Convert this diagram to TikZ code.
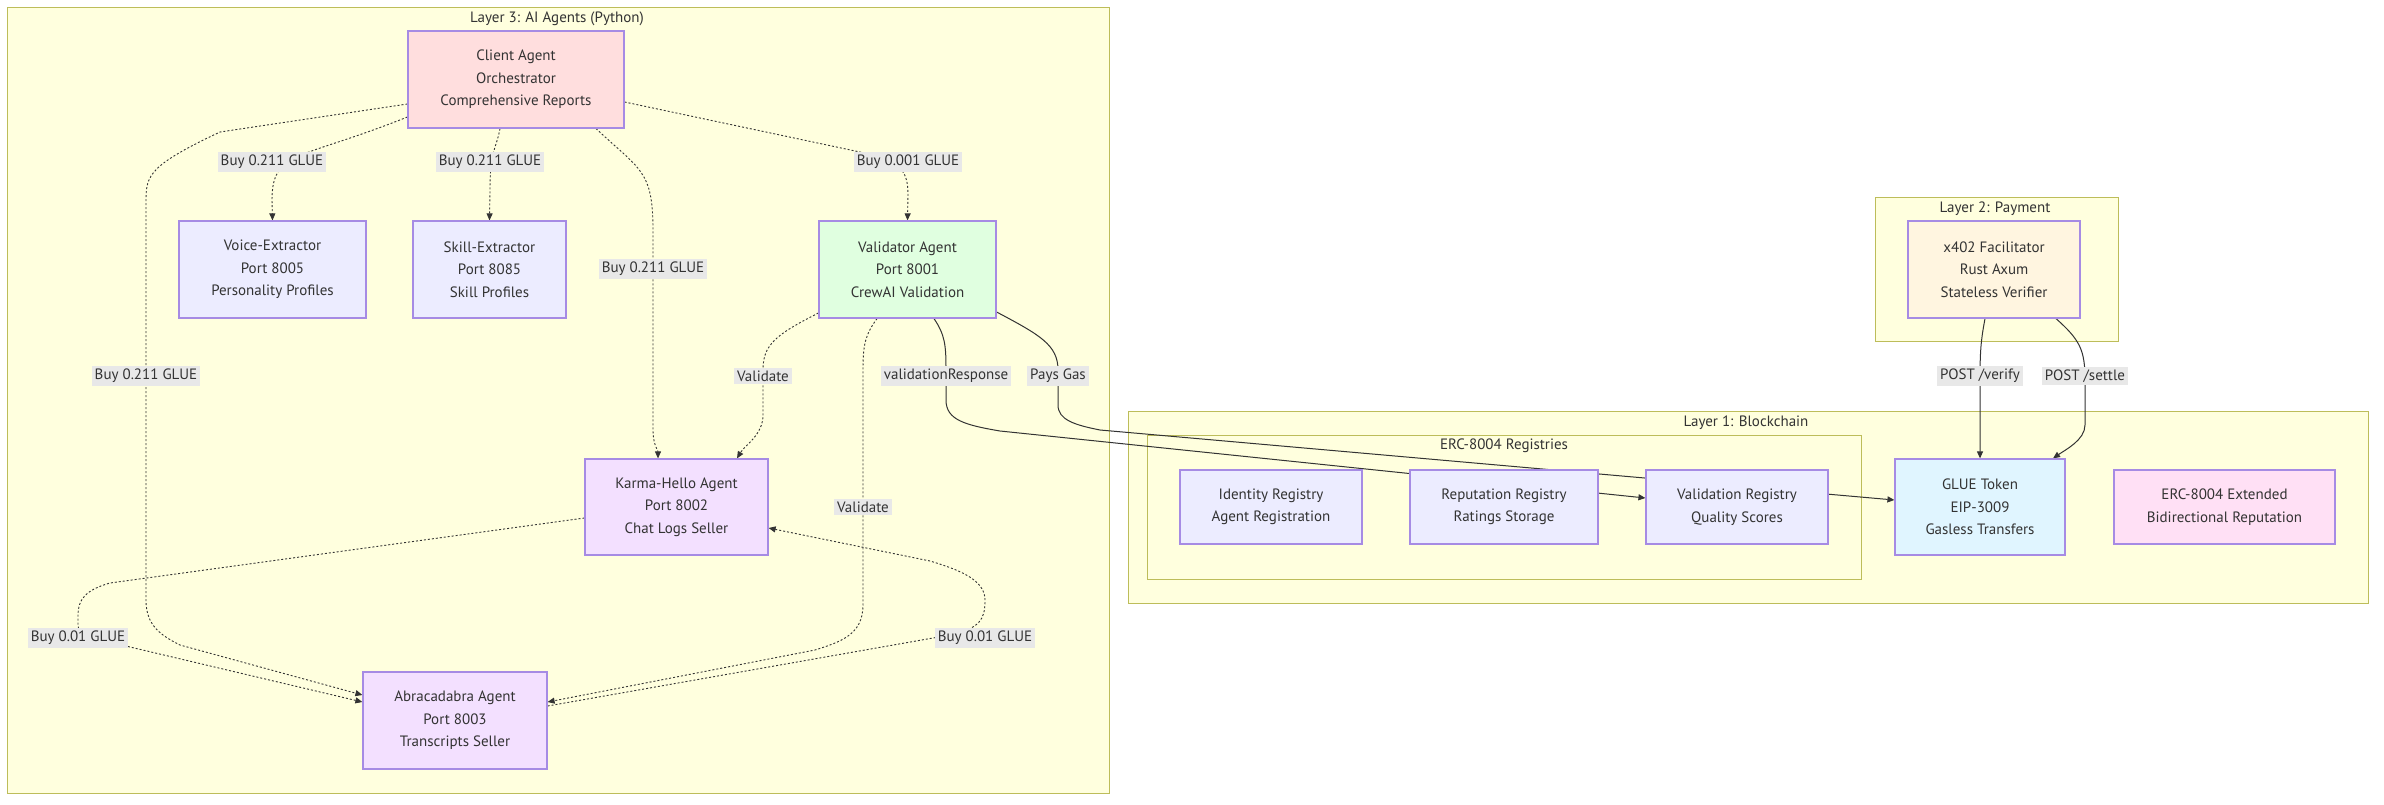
\documentclass[tikz,border=0pt]{standalone}
\usepackage{fontspec}
\setmainfont{PT Sans}
\usetikzlibrary{arrows.meta,calc}
\definecolor{clfill}{HTML}{FFFFDE}
\definecolor{cldraw}{HTML}{BDBD5A}
\definecolor{nddraw}{HTML}{A68BE4}
\definecolor{ndfill}{HTML}{ECECFF}
\definecolor{pinkfill}{HTML}{FFDEDE}
\definecolor{greenfill}{HTML}{E0FFE0}
\definecolor{lilacfill}{HTML}{F3E0FF}
\definecolor{creamfill}{HTML}{FFF5E0}
\definecolor{bluefill}{HTML}{E0F5FF}
\definecolor{rosefill}{HTML}{FFE0F5}
\definecolor{lblfill}{HTML}{E8E8E8}
\definecolor{ink}{HTML}{333333}
\pgfdeclarelayer{bg}
\pgfdeclarelayer{edges}
\pgfsetlayers{bg,edges,main}
\tikzset{
  txt/.style={font=\fontsize{15}{22.5}\selectfont, text=ink},
  cluster/.style={draw=cldraw, fill=clfill, line width=1pt, inner sep=0pt},
  ttl/.style={txt, inner sep=0pt},
  box/.style={txt, draw=nddraw, line width=1.2pt, fill=ndfill, align=center, inner sep=0pt},
  lbl/.style={txt, fill=lblfill, inner sep=3pt, align=center},
  dotline/.style={draw=ink, line width=0.9pt, dash pattern=on 2pt off 2pt, -{Triangle[length=7pt,width=6pt]}},
  solidline/.style={draw=ink, line width=1pt, -{Triangle[length=7pt,width=6pt]}},
}
\begin{document}
\begin{tikzpicture}[x=1pt,y=-1pt]
\useasboundingbox (0,0) rectangle (2384,804);

% clusters
\begin{pgfonlayer}{bg}
\fill[white] (0,0) rectangle (2384,804);
\node[cluster, minimum width=1102pt, minimum height=786pt] (layer3) at (558,400) {};
\node[cluster, minimum width=243pt, minimum height=144pt] (layer2) at (1996.5,269) {};
\node[cluster, minimum width=1240pt, minimum height=192pt] (layer1) at (1748,507) {};
\node[cluster, minimum width=714pt, minimum height=144pt] (regs) at (1504,507) {};
\end{pgfonlayer}
\node[ttl] (t3) at (557,19) {Layer 3: AI Agents (Python)};
\node[ttl] (t2) at (1995,209) {Layer 2: Payment};
\node[ttl] (t1) at (1746,423) {Layer 1: Blockchain};
\node[ttl] (tr) at (1504,446) {ERC-8004 Registries};

% nodes
\node[box, fill=pinkfill, minimum width=216pt, minimum height=97pt] (client) at (516,79.5) {Client Agent\\Orchestrator\\Comprehensive Reports};
\node[box, minimum width=187pt, minimum height=97pt] (voice) at (272.5,269.5) {Voice-Extractor\\Port 8005\\Personality Profiles};
\node[box, minimum width=153pt, minimum height=97pt] (skill) at (489.5,269.5) {Skill-Extractor\\Port 8085\\Skill Profiles};
\node[box, fill=greenfill, minimum width=177pt, minimum height=97pt] (validator) at (907.5,269.5) {Validator Agent\\Port 8001\\CrewAI Validation};
\node[box, fill=lilacfill, minimum width=183pt, minimum height=96pt] (karma) at (676.5,507) {Karma-Hello Agent\\Port 8002\\Chat Logs Seller};
\node[box, fill=lilacfill, minimum width=184pt, minimum height=97pt] (abra) at (455,720.5) {Abracadabra Agent\\Port 8003\\Transcripts Seller};
\node[box, fill=creamfill, minimum width=172pt, minimum height=97pt] (x402) at (1994,269.5) {x402 Facilitator\\Rust Axum\\Stateless Verifier};
\node[box, minimum width=182pt, minimum height=74pt] (identity) at (1271,507) {Identity Registry\\Agent Registration};
\node[box, minimum width=188pt, minimum height=74pt] (reputation) at (1504,507) {Reputation Registry\\Ratings Storage};
\node[box, minimum width=182pt, minimum height=74pt] (valreg) at (1737,507) {Validation Registry\\Quality Scores};
\node[box, fill=bluefill, minimum width=170pt, minimum height=96pt] (glue) at (1980,507) {GLUE Token\\EIP-3009\\Gasless Transfers};
\node[box, fill=rosefill, minimum width=221pt, minimum height=74pt] (ext) at (2224.5,507) {ERC-8004 Extended\\Bidirectional Reputation};

% edges
\begin{pgfonlayer}{edges}
\draw[dotline] ([yshift=-37.5pt]client.west) .. controls (300,160) and (272,150) .. (272,200) -- (voice.north);
\draw[dotline] ([xshift=-16pt]client.south) .. controls (496,150) and (490,150) .. (490,190) -- (skill.north);
\draw[dotline] ([xshift=80pt]client.south) .. controls (640,170) and (653,170) .. (653,230) -- (653,430) .. controls (653,445) and (658,450) .. ([xshift=-18.5pt]karma.north);
\draw[dotline] ([yshift=-22.5pt]client.east) -- (860,152) .. controls (900,160) and (908,170) .. (908,195) -- (validator.north);
\draw[dotline] ([yshift=-24.5pt]client.west) -- (220,132) .. controls (150,165) and (146,175) .. (146,200) -- (146,600) .. controls (146,625) and (160,635) .. (180,645) -- ([yshift=25.5pt]abra.west);
\draw[dotline] ([yshift=-43.5pt]validator.west) .. controls (775,335) and (763,345) .. (763,370) -- (763,415) .. controls (763,435) and (745,445) .. ([xshift=60.5pt]karma.north);
\draw[dotline] ([xshift=-30.5pt]validator.south) .. controls (865,335) and (863,345) .. (863,370) -- (863,605) .. controls (863,635) and (840,642) .. (815,650) -- ([yshift=18.5pt]abra.east);
\draw[solidline] ([xshift=26.5pt]validator.south) .. controls (945,335) and (946,345) .. (946,370) -- (946,400) .. controls (946,420) and (965,425) .. (1000,431) -- ([yshift=9pt]valreg.west);
\draw[solidline] ([yshift=-42.5pt]validator.east) .. controls (1040,335) and (1058,345) .. (1058,370) -- (1058,405) .. controls (1058,420) and (1075,425) .. (1100,430) -- ([yshift=7pt]glue.west);
\draw[solidline] ([xshift=-9pt]x402.south) .. controls (1981,340) and (1980,350) .. (1980,380) -- (glue.north);
\draw[solidline] ([xshift=62pt]x402.south) .. controls (2080,340) and (2085,350) .. (2085,380) -- (2085,425) .. controls (2085,440) and (2065,450) .. ([xshift=73pt]glue.north);
\draw[dotline] ([yshift=-11pt]karma.west) -- (110,583) .. controls (85,590) and (78,600) .. (78,615) -- (78,625) .. controls (78,632) and (82,635) .. (92,638) -- ([yshift=18.5pt]abra.west);
\draw[dotline] ([yshift=14.5pt]abra.east) -- (950,635) .. controls (980,628) and (985,620) .. (985,600) .. controls (985,580) and (960,570) .. (930,561) -- ([yshift=-21pt]karma.east);
\end{pgfonlayer}

% edge labels
\node[lbl] (lvoice) at (272,162) {Buy 0.211 GLUE};
\node[lbl] (lskill) at (490,162) {Buy 0.211 GLUE};
\node[lbl] (lval) at (908,162) {Buy 0.001 GLUE};
\node[lbl] (lkarma) at (653,269) {Buy 0.211 GLUE};
\node[lbl] (labra) at (146,376) {Buy 0.211 GLUE};
\node[lbl] (lvalidate1) at (763,376) {Validate};
\node[lbl] (lvresp) at (946,376) {validationResponse};
\node[lbl] (lgas) at (1058,376) {Pays Gas};
\node[lbl] (lvalidate2) at (863,507) {Validate};
\node[lbl] (lbuyl) at (78,638) {Buy 0.01 GLUE};
\node[lbl] (lbuyr) at (985,638) {Buy 0.01 GLUE};
\node[lbl] (lverify) at (1980,376) {POST /verify};
\node[lbl] (lsettle) at (2085,376) {POST /settle};
\end{tikzpicture}
\end{document}
